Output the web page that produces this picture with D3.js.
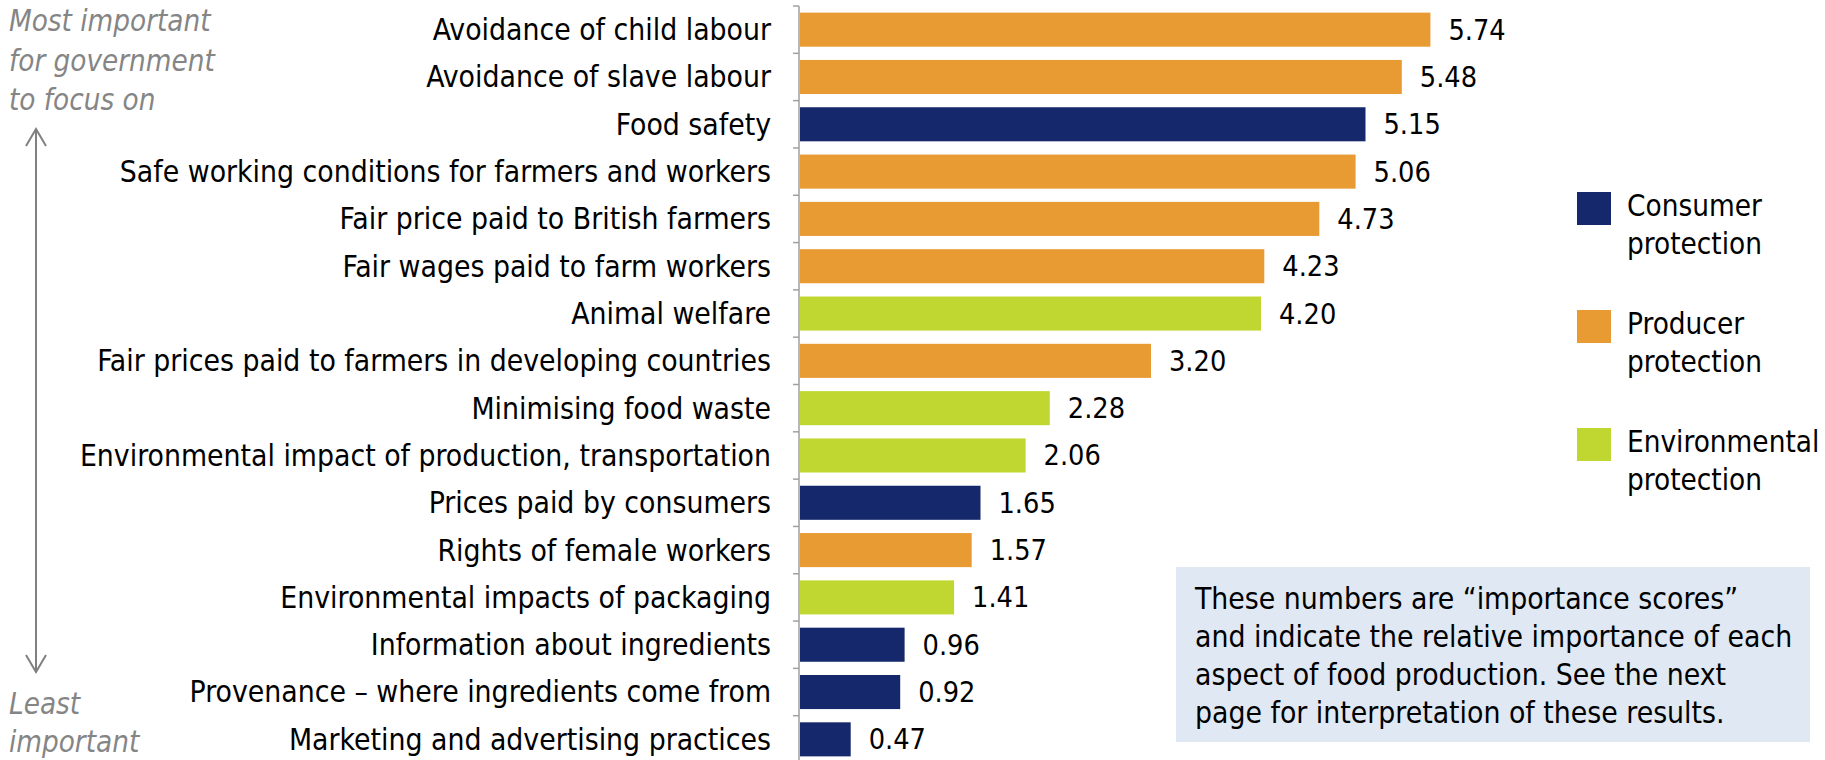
<!DOCTYPE html>
<html>
<head>
<meta charset="utf-8">
<script src="https://cdn.jsdelivr.net/npm/d3@7"></script>
<style>
  html, body { margin: 0; padding: 0; background: #fff; }
  svg { display: block; }
  text { font-family: "DejaVu Sans Condensed", "Liberation Sans", sans-serif; font-stretch: condensed; }
</style>
</head>
<body>
<svg id="chart" width="1825" height="760"></svg>
<script>
// Aspects of food production, ordered from most to least important
const categories = [
  "Avoidance of child labour",
  "Avoidance of slave labour",
  "Food safety",
  "Safe working conditions for farmers and workers",
  "Fair price paid to British farmers",
  "Fair wages paid to farm workers",
  "Animal welfare",
  "Fair prices paid to farmers in developing countries",
  "Minimising food waste",
  "Environmental impact of production, transportation",
  "Prices paid by consumers",
  "Rights of female workers",
  "Environmental impacts of packaging",
  "Information about ingredients",
  "Provenance \u2013 where ingredients come from",
  "Marketing and advertising practices"
];
const scores = [5.74, 5.48, 5.15, 5.06, 4.73, 4.23, 4.20, 3.20, 2.28, 2.06, 1.65, 1.57, 1.41, 0.96, 0.92, 0.47];
const groups = ["Producer", "Producer", "Consumer", "Producer", "Producer", "Producer", "Environmental", "Producer",
                "Environmental", "Environmental", "Consumer", "Producer", "Environmental", "Consumer", "Consumer", "Consumer"];
const legendKeys = ["Consumer", "Producer", "Environmental"];
const legendLabels = [["Consumer", "protection"], ["Producer", "protection"], ["Environmental", "protection"]];
const noteLines = [
  "These numbers are \u201Cimportance scores\u201D",
  "and indicate the relative importance of each",
  "aspect of food production. See the next",
  "page for interpretation of these results."
];
const topNote = ["Most important", "for government", "to focus on"];
const bottomNote = ["Least", "important"];

const svg = d3.select("#chart");
const color = d3.scaleOrdinal().domain(legendKeys).range(["#15286b", "#e89a33", "#bfd730"]);

const x0 = 799;
const x = d3.scaleLinear().domain([0, 7]).range([x0, x0 + 7 * 110]);
const y = d3.scaleBand().domain(categories).range([6, 763]).paddingInner(0.28).paddingOuter(0.14);

// Category axis on the left with short outward ticks at band boundaries
const axisG = svg.append("g");
axisG.append("line")
  .attr("x1", x0).attr("x2", x0).attr("y1", 6).attr("y2", 763)
  .attr("stroke", "#a0a0a0").attr("stroke-width", 1.5);
const bounds = d3.range(categories.length + 1).map(i => 6 + i * y.step());
axisG.selectAll(".tk").data(bounds).join("line")
  .attr("x1", x0 - 6).attr("x2", x0).attr("y1", d => d).attr("y2", d => d)
  .attr("stroke", "#a0a0a0").attr("stroke-width", 1.5);

svg.append("g").selectAll("text").data(categories).join("text")
  .attr("x", x0 - 28)
  .attr("y", d => y(d) + y.bandwidth() / 2)
  .attr("dy", "0.35em")
  .attr("text-anchor", "end")
  .attr("font-size", 29.8)
  .attr("fill", "#000")
  .text(d => d);

// Bars
svg.append("g").selectAll("rect").data(categories).join("rect")
  .attr("x", x(0) + 1)
  .attr("y", d => y(d))
  .attr("width", (d, i) => x(scores[i]) - x(0) - 1)
  .attr("height", y.bandwidth())
  .attr("fill", (d, i) => color(groups[i]));

// Value labels
svg.append("g").selectAll("text").data(categories).join("text")
  .attr("x", (d, i) => x(scores[i]) + 18)
  .attr("y", d => y(d) + y.bandwidth() / 2)
  .attr("dy", "0.35em")
  .attr("font-size", 28.6)
  .attr("fill", "#000")
  .text((d, i) => scores[i].toFixed(2));

// Legend
const lg = svg.append("g").selectAll("g").data(legendKeys).join("g")
  .attr("transform", (d, i) => `translate(1577, ${192 + i * 118})`);
lg.append("rect").attr("width", 34).attr("height", 33).attr("fill", d => color(d));
lg.each(function(d, i) {
  d3.select(this).selectAll("text").data(legendLabels[i]).join("text")
    .attr("x", 50).attr("y", (t, j) => 24 + j * 38)
    .attr("font-size", 29.4).attr("fill", "#000")
    .text(t => t);
});

// Note box
const note = svg.append("g");
note.append("rect").attr("x", 1176).attr("y", 567).attr("width", 634).attr("height", 175).attr("fill", "#dfe8f3");
note.selectAll("text").data(noteLines).join("text")
  .attr("x", 1195).attr("y", (d, i) => 609 + i * 38)
  .attr("font-size", 29.8).attr("fill", "#000")
  .text(d => d);

// Importance direction annotation
const side = svg.append("g").attr("fill", "#858585");
side.selectAll(".top").data(topNote).join("text").attr("class", "top")
  .attr("x", 9).attr("y", (d, i) => 31 + i * 39.5)
  .attr("font-size", 29.3).attr("font-style", "italic").text(d => d);
side.selectAll(".bot").data(bottomNote).join("text").attr("class", "bot")
  .attr("x", 9).attr("y", (d, i) => 714 + i * 38)
  .attr("font-size", 29.3).attr("font-style", "italic").text(d => d);
const ax = 36, ay1 = 129, ay2 = 672;
const arrow = svg.append("g").attr("stroke", "#808080").attr("stroke-width", 2).attr("fill", "none");
arrow.append("line").attr("x1", ax).attr("x2", ax).attr("y1", ay1).attr("y2", ay2);
arrow.append("path").attr("d", `M${ax - 10},${ay1 + 17}L${ax},${ay1}L${ax + 10},${ay1 + 17}`);
arrow.append("path").attr("d", `M${ax - 10},${ay2 - 17}L${ax},${ay2}L${ax + 10},${ay2 - 17}`);
</script>
</body>
</html>
